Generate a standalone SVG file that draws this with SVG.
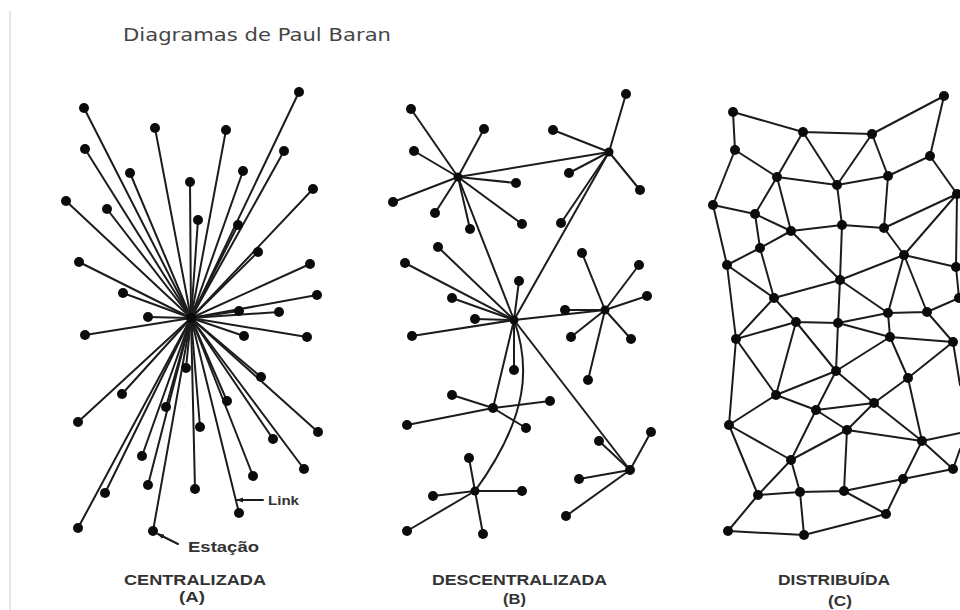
<svg xmlns="http://www.w3.org/2000/svg" width="960" height="610" viewBox="0 0 960 610">
<style>
.c line,.c path{stroke:#1c1c1c;stroke-width:2;fill:none;stroke-linecap:round}
.c marker path{fill:#1c1c1c;stroke:none}
.n circle{fill:#0b0b0b}
.t{font-family:"Liberation Sans",Arial,sans-serif;font-weight:bold;font-size:14.5px;fill:#333}
</style>
<defs><marker id="ah" markerUnits="userSpaceOnUse" markerWidth="7" markerHeight="6" refX="6" refY="3" orient="auto"><path d="M0,0.5L7,3L0,5.5Z" fill="#1c1c1c" stroke="none"/></marker></defs>
<rect width="960" height="610" fill="#fff"/>
<rect x="9" y="11" width="2" height="599" fill="#e6e6e6"/>
<text id="title" x="123" y="41" font-family="'DejaVu Sans',Verdana,sans-serif" font-size="17" fill="#454545" textLength="268" lengthAdjust="spacingAndGlyphs">Diagramas de Paul Baran</text>
<g id="connectors" class="c">
<g id="links-a">
<line x1="191" y1="318" x2="84" y2="108"/><line x1="191" y1="318" x2="155" y2="128"/><line x1="191" y1="318" x2="226" y2="130"/><line x1="191" y1="318" x2="299" y2="92"/><line x1="191" y1="318" x2="85" y2="149"/><line x1="191" y1="318" x2="284" y2="151"/><line x1="191" y1="318" x2="130" y2="173"/><line x1="191" y1="318" x2="243" y2="171"/><line x1="191" y1="318" x2="190" y2="182"/><line x1="191" y1="318" x2="313" y2="189"/><line x1="191" y1="318" x2="66" y2="201"/><line x1="191" y1="318" x2="107" y2="209"/><line x1="191" y1="318" x2="198" y2="220"/><line x1="191" y1="318" x2="238" y2="225"/><line x1="191" y1="318" x2="258" y2="252"/><line x1="191" y1="318" x2="79" y2="262"/><line x1="191" y1="318" x2="310" y2="264"/><line x1="191" y1="318" x2="317" y2="295"/><line x1="191" y1="318" x2="123" y2="293"/><line x1="191" y1="318" x2="239" y2="311"/><line x1="191" y1="318" x2="279" y2="312"/><line x1="191" y1="318" x2="148" y2="317"/><line x1="191" y1="318" x2="85" y2="335"/><line x1="191" y1="318" x2="244" y2="336"/><line x1="191" y1="318" x2="307" y2="337"/><line x1="191" y1="318" x2="261" y2="377"/><line x1="191" y1="318" x2="122" y2="394"/><line x1="191" y1="318" x2="186" y2="368"/><line x1="191" y1="318" x2="166" y2="407"/><line x1="191" y1="318" x2="227" y2="401"/><line x1="191" y1="318" x2="78" y2="422"/><line x1="191" y1="318" x2="200" y2="427"/><line x1="191" y1="318" x2="318" y2="432"/><line x1="191" y1="318" x2="142" y2="456"/><line x1="191" y1="318" x2="273" y2="439"/><line x1="191" y1="318" x2="304" y2="469"/><line x1="191" y1="318" x2="253" y2="476"/><line x1="191" y1="318" x2="148" y2="485"/><line x1="191" y1="318" x2="195" y2="489"/><line x1="191" y1="318" x2="105" y2="493"/><line x1="191" y1="318" x2="239" y2="513"/><line x1="191" y1="318" x2="78" y2="528"/><line x1="191" y1="318" x2="153" y2="531"/>
<line x1="263" y1="500" x2="237" y2="500" marker-end="url(#ah)"/><line x1="178" y1="544" x2="158" y2="534" marker-end="url(#ah)"/>
</g>
<g id="links-b">
<line x1="458" y1="177" x2="411" y2="109"/><line x1="458" y1="177" x2="484" y2="129"/><line x1="458" y1="177" x2="414" y2="151"/><line x1="458" y1="177" x2="516" y2="183"/><line x1="458" y1="177" x2="393" y2="202"/><line x1="458" y1="177" x2="435" y2="213"/><line x1="458" y1="177" x2="470" y2="229"/><line x1="458" y1="177" x2="522" y2="224"/><line x1="458" y1="177" x2="609" y2="152"/>
<line x1="609" y1="152" x2="626" y2="94"/><line x1="609" y1="152" x2="553" y2="130"/><line x1="609" y1="152" x2="569" y2="173"/><line x1="609" y1="152" x2="640" y2="190"/><line x1="609" y1="152" x2="561" y2="223"/>
<line x1="514" y1="320" x2="458" y2="177"/><line x1="514" y1="320" x2="609" y2="152"/><line x1="514" y1="320" x2="605" y2="310"/><line x1="514" y1="320" x2="438" y2="247"/><line x1="514" y1="320" x2="405" y2="263"/><line x1="514" y1="320" x2="452" y2="298"/><line x1="514" y1="320" x2="475" y2="319"/><line x1="514" y1="320" x2="412" y2="336"/><line x1="514" y1="320" x2="519" y2="281"/><line x1="514" y1="320" x2="514" y2="370"/><line x1="514" y1="320" x2="493" y2="408"/><line x1="514" y1="320" x2="630" y2="470"/>
<path d="M514,320C530,365 530,415 475,491"/>
<line x1="605" y1="310" x2="582" y2="253"/><line x1="605" y1="310" x2="639" y2="265"/><line x1="605" y1="310" x2="647" y2="296"/><line x1="605" y1="310" x2="565" y2="310"/><line x1="605" y1="310" x2="571" y2="337"/><line x1="605" y1="310" x2="631" y2="339"/><line x1="605" y1="310" x2="588" y2="380"/>
<line x1="493" y1="408" x2="452" y2="395"/><line x1="493" y1="408" x2="550" y2="401"/><line x1="493" y1="408" x2="407" y2="425"/><line x1="493" y1="408" x2="526" y2="428"/>
<line x1="630" y1="470" x2="599" y2="441"/><line x1="630" y1="470" x2="651" y2="432"/><line x1="630" y1="470" x2="579" y2="479"/><line x1="630" y1="470" x2="566" y2="516"/>
<line x1="475" y1="491" x2="469" y2="458"/><line x1="475" y1="491" x2="522" y2="491"/><line x1="475" y1="491" x2="433" y2="496"/><line x1="475" y1="491" x2="407" y2="531"/><line x1="475" y1="491" x2="483" y2="534"/>
</g>
<g id="links-c">
<path d="M733,112L803,132M733,112L735,150M803,132L872,134M872,134L944,96M944,96L930,156M803,132L777,177M803,132L837,185M872,134L837,185M872,134L888,176M735,150L777,177M735,150L713,205M930,156L888,176M930,156L957,194M777,177L837,185M837,185L888,176M777,177L755,214M777,177L791,231M837,185L842,225M888,176L884,228M713,205L755,214M713,205L727,265M755,214L791,231M755,214L760,248M791,231L842,225M842,225L884,228M791,231L760,248M760,248L727,265M760,248L774,298M791,231L840,280M842,225L840,280M840,280L904,255M884,228L957,194M884,228L904,255M904,255L957,194M904,255L956,267M957,194L956,267M956,267L959,298M904,255L888,313M904,255L927,312"/>
<path d="M727,265L774,298M727,265L736,339M774,298L840,280M774,298L796,322M774,298L736,339M840,280L838,323M840,280L888,313M888,313L927,312M888,313L838,323M888,313L890,337M927,312L959,298M927,312L953,342M736,339L796,322M796,322L838,323M838,323L890,337M890,337L953,342M796,322L776,395M796,322L836,371M838,323L836,371M890,337L836,371M890,337L908,378M953,342L908,378M736,339L776,395M736,339L729,425M776,395L836,371M776,395L816,410M776,395L729,425M836,371L816,410M836,371L874,403M874,403L908,378M874,403L816,410M874,403L847,430M874,403L922,441M908,378L922,441M816,410L847,430M816,410L791,460M847,430L791,460M847,430L922,441M847,430L844,491M729,425L791,460M729,425L758,495M791,460L758,495M791,460L800,492M758,495L800,492M800,492L844,491M758,495L728,531M728,531L804,535M800,492L804,535M804,535L886,514M844,491L886,514M844,491L903,479M903,479L953,469M903,479L922,441M903,479L886,514M922,441L953,469M922,441L960,433M953,342L960,385M960,449L953,469"/>
</g>
</g>
<g id="net-a" class="n">
<g id="a0"><circle cx="191" cy="318" r="5"/></g>
<g id="a1"><circle cx="84" cy="108" r="5"/></g><g id="a2"><circle cx="155" cy="128" r="5"/></g><g id="a3"><circle cx="226" cy="130" r="5"/></g><g id="a4"><circle cx="299" cy="92" r="5"/></g><g id="a5"><circle cx="85" cy="149" r="5"/></g><g id="a6"><circle cx="284" cy="151" r="5"/></g><g id="a7"><circle cx="130" cy="173" r="5"/></g><g id="a8"><circle cx="243" cy="171" r="5"/></g><g id="a9"><circle cx="190" cy="182" r="5"/></g><g id="a10"><circle cx="313" cy="189" r="5"/></g><g id="a11"><circle cx="66" cy="201" r="5"/></g><g id="a12"><circle cx="107" cy="209" r="5"/></g><g id="a13"><circle cx="198" cy="220" r="5"/></g><g id="a14"><circle cx="238" cy="225" r="5"/></g><g id="a15"><circle cx="258" cy="252" r="5"/></g><g id="a16"><circle cx="79" cy="262" r="5"/></g><g id="a17"><circle cx="310" cy="264" r="5"/></g><g id="a18"><circle cx="317" cy="295" r="5"/></g><g id="a19"><circle cx="123" cy="293" r="5"/></g><g id="a20"><circle cx="239" cy="311" r="5"/></g><g id="a21"><circle cx="279" cy="312" r="5"/></g><g id="a22"><circle cx="148" cy="317" r="5"/></g><g id="a23"><circle cx="85" cy="335" r="5"/></g><g id="a24"><circle cx="244" cy="336" r="5"/></g><g id="a25"><circle cx="307" cy="337" r="5"/></g><g id="a26"><circle cx="261" cy="377" r="5"/></g><g id="a27"><circle cx="122" cy="394" r="5"/></g><g id="a28"><circle cx="186" cy="368" r="5"/></g><g id="a29"><circle cx="166" cy="407" r="5"/></g><g id="a30"><circle cx="227" cy="401" r="5"/></g><g id="a31"><circle cx="78" cy="422" r="5"/></g><g id="a32"><circle cx="200" cy="427" r="5"/></g><g id="a33"><circle cx="318" cy="432" r="5"/></g><g id="a34"><circle cx="142" cy="456" r="5"/></g><g id="a35"><circle cx="273" cy="439" r="5"/></g><g id="a36"><circle cx="304" cy="469" r="5"/></g><g id="a37"><circle cx="253" cy="476" r="5"/></g><g id="a38"><circle cx="148" cy="485" r="5"/></g><g id="a39"><circle cx="195" cy="489" r="5"/></g><g id="a40"><circle cx="105" cy="493" r="5"/></g><g id="a41"><circle cx="239" cy="513" r="5"/></g><g id="a42"><circle cx="78" cy="528" r="5"/></g><g id="a43"><circle cx="153" cy="531" r="5"/></g>
</g>
<g id="net-b" class="n">
<g id="b1"><circle cx="458" cy="177" r="4.5"/></g><g id="b2"><circle cx="609" cy="152" r="4.5"/></g><g id="b3"><circle cx="514" cy="320" r="4.5"/></g><g id="b4"><circle cx="605" cy="310" r="4.5"/></g><g id="b5"><circle cx="493" cy="408" r="5"/></g><g id="b6"><circle cx="630" cy="470" r="5"/></g><g id="b7"><circle cx="475" cy="491" r="4.5"/></g>
<g id="b8"><circle cx="411" cy="109" r="5"/></g><g id="b9"><circle cx="484" cy="129" r="5"/></g><g id="b10"><circle cx="414" cy="151" r="5"/></g><g id="b11"><circle cx="516" cy="183" r="5"/></g><g id="b12"><circle cx="393" cy="202" r="5"/></g><g id="b13"><circle cx="435" cy="213" r="5"/></g><g id="b14"><circle cx="470" cy="229" r="5"/></g><g id="b15"><circle cx="522" cy="224" r="5"/></g><g id="b16"><circle cx="626" cy="94" r="5"/></g><g id="b17"><circle cx="553" cy="130" r="5"/></g><g id="b18"><circle cx="569" cy="173" r="5"/></g><g id="b19"><circle cx="640" cy="190" r="5"/></g><g id="b20"><circle cx="561" cy="223" r="5"/></g><g id="b21"><circle cx="438" cy="247" r="5"/></g><g id="b22"><circle cx="405" cy="263" r="5"/></g><g id="b23"><circle cx="452" cy="298" r="5"/></g><g id="b24"><circle cx="475" cy="319" r="5"/></g><g id="b25"><circle cx="412" cy="336" r="5"/></g><g id="b26"><circle cx="519" cy="281" r="5"/></g><g id="b27"><circle cx="514" cy="370" r="5"/></g><g id="b28"><circle cx="582" cy="253" r="5"/></g><g id="b29"><circle cx="639" cy="265" r="5"/></g><g id="b30"><circle cx="647" cy="296" r="5"/></g><g id="b31"><circle cx="565" cy="310" r="5"/></g><g id="b32"><circle cx="571" cy="337" r="5"/></g><g id="b33"><circle cx="631" cy="339" r="5"/></g><g id="b34"><circle cx="588" cy="380" r="5"/></g><g id="b35"><circle cx="452" cy="395" r="5"/></g><g id="b36"><circle cx="550" cy="401" r="5"/></g><g id="b37"><circle cx="407" cy="425" r="5"/></g><g id="b38"><circle cx="526" cy="428" r="5"/></g><g id="b39"><circle cx="599" cy="441" r="5"/></g><g id="b40"><circle cx="651" cy="432" r="5"/></g><g id="b41"><circle cx="579" cy="479" r="5"/></g><g id="b42"><circle cx="566" cy="516" r="5"/></g><g id="b43"><circle cx="469" cy="458" r="5"/></g><g id="b44"><circle cx="522" cy="491" r="5"/></g><g id="b45"><circle cx="433" cy="496" r="5"/></g><g id="b46"><circle cx="407" cy="531" r="5"/></g><g id="b47"><circle cx="483" cy="534" r="5"/></g>
</g>
<g id="net-c" class="n">
<g id="c1"><circle cx="733" cy="112" r="5"/></g><g id="c2"><circle cx="803" cy="132" r="5"/></g><g id="c3"><circle cx="872" cy="134" r="5"/></g><g id="c4"><circle cx="944" cy="96" r="5"/></g><g id="c5"><circle cx="735" cy="150" r="5"/></g><g id="c6"><circle cx="930" cy="156" r="5"/></g><g id="c7"><circle cx="777" cy="177" r="5"/></g><g id="c8"><circle cx="837" cy="185" r="5"/></g><g id="c9"><circle cx="888" cy="176" r="5"/></g><g id="c10"><circle cx="957" cy="194" r="5"/></g><g id="c11"><circle cx="713" cy="205" r="5"/></g><g id="c12"><circle cx="755" cy="214" r="5"/></g><g id="c13"><circle cx="791" cy="231" r="5"/></g><g id="c14"><circle cx="842" cy="225" r="5"/></g><g id="c15"><circle cx="884" cy="228" r="5"/></g><g id="c16"><circle cx="760" cy="248" r="5"/></g><g id="c17"><circle cx="904" cy="255" r="5"/></g><g id="c18"><circle cx="727" cy="265" r="5"/></g><g id="c19"><circle cx="956" cy="267" r="5"/></g><g id="c20"><circle cx="840" cy="280" r="5"/></g><g id="c21"><circle cx="774" cy="298" r="5"/></g><g id="c22"><circle cx="959" cy="298" r="5"/></g><g id="c23"><circle cx="888" cy="313" r="5"/></g><g id="c24"><circle cx="927" cy="312" r="5"/></g><g id="c25"><circle cx="796" cy="322" r="5"/></g><g id="c26"><circle cx="838" cy="323" r="5"/></g><g id="c27"><circle cx="736" cy="339" r="5"/></g><g id="c28"><circle cx="890" cy="337" r="5"/></g><g id="c29"><circle cx="953" cy="342" r="5"/></g><g id="c30"><circle cx="836" cy="371" r="5"/></g><g id="c31"><circle cx="908" cy="378" r="5"/></g><g id="c32"><circle cx="776" cy="395" r="5"/></g><g id="c33"><circle cx="874" cy="403" r="5"/></g><g id="c34"><circle cx="816" cy="410" r="5"/></g><g id="c35"><circle cx="847" cy="430" r="5"/></g><g id="c36"><circle cx="729" cy="425" r="5"/></g><g id="c37"><circle cx="922" cy="441" r="5"/></g><g id="c38"><circle cx="791" cy="460" r="5"/></g><g id="c39"><circle cx="953" cy="469" r="5"/></g><g id="c40"><circle cx="903" cy="479" r="5"/></g><g id="c41"><circle cx="800" cy="492" r="5"/></g><g id="c42"><circle cx="844" cy="491" r="5"/></g><g id="c43"><circle cx="758" cy="495" r="5"/></g><g id="c44"><circle cx="886" cy="514" r="5"/></g><g id="c45"><circle cx="728" cy="531" r="5"/></g><g id="c46"><circle cx="804" cy="535" r="5"/></g>
</g>
<g id="labels" class="t">
<text x="268" y="505" style="font-size:12.5px" textLength="31" lengthAdjust="spacingAndGlyphs">Link</text>
<text x="188" y="552" style="font-size:15px" textLength="71" lengthAdjust="spacingAndGlyphs">Estação</text>
<text x="124" y="585" textLength="142" lengthAdjust="spacingAndGlyphs">CENTRALIZADA</text>
<text x="179" y="602" textLength="26" lengthAdjust="spacingAndGlyphs">(A)</text>
<text x="432" y="585" textLength="175" lengthAdjust="spacingAndGlyphs">DESCENTRALIZADA</text>
<text x="503" y="604" textLength="23" lengthAdjust="spacingAndGlyphs">(B)</text>
<text x="778" y="585" textLength="112" lengthAdjust="spacingAndGlyphs">DISTRIBUÍDA</text>
<text x="828" y="606" textLength="24" lengthAdjust="spacingAndGlyphs">(C)</text>
</g>
</svg>
